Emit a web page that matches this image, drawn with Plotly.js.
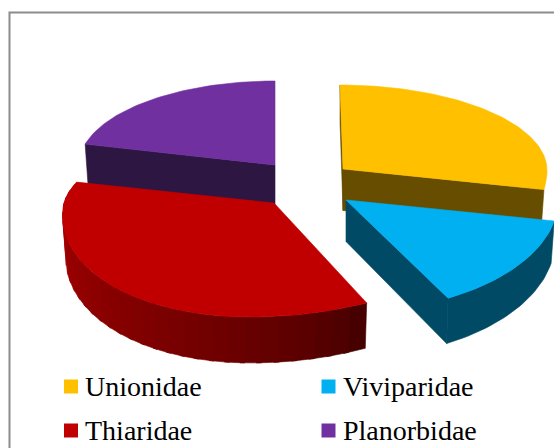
<!DOCTYPE html>
<html><head><meta charset="utf-8">
<script src="https://cdn.plot.ly/plotly-3.0.1.min.js"></script>
<style>html,body{margin:0;padding:0;background:#fff;overflow:hidden}#c{width:554px;height:448px}</style>
</head><body><div id="c"></div>
<script>
// Data
const categories = ["Unionidae","Viviparidae","Thiaridae","Planorbidae"];
const values = [28,14,37,21];
const topColors = ["#FFC000","#00B0F0","#C00000","#7030A0"];
const sideColors = ["#664D00","#004A66","#800000","#2E1642"];

// Projected pie geometry (exploded apex and radii for each slice, in chart units)
const apexX = [343,346,274,275], apexY = [169,200,203,165];
const radRight = [204,212,236,196], radLeft = [209,208,210,196];
const radBack = 84, radFront = [110,112,114,84];
const skew = [-3,0,24,0];
const depthMid = 41.5, depthTilt = 4.5, baseShrink = 0.985;

const total = values.reduce((a,b)=>a+b,0);
let cum = 0;
const startAng = [], endAng = [];
values.forEach(v=>{ startAng.push(cum/total*2*Math.PI); cum+=v; endAng.push(cum/total*2*Math.PI); });

function rimTop(i,t){ const X=Math.sin(t),Y=Math.cos(t);
  return [apexX[i]+X*(X>=0?radRight[i]:radLeft[i])+skew[i]*Y, apexY[i]-Y*(Y>=0?radBack:radFront[i]), Y]; }
function rimBot(i,t){ const p=rimTop(i,t);
  return [apexX[i]+(p[0]-apexX[i])*baseShrink, p[1]+depthMid-depthTilt*p[2]]; }
function arc(i,a,b,f){ const n=Math.max(2,Math.round(Math.abs(b-a)*40)),o=[];
  for(let k=0;k<=n;k++) o.push(f(i,a+(b-a)*k/n)); return o; }
const traces=[];
function poly(pts,color){ const xs=pts.map(p=>p[0]).concat(pts[0][0]), ys=pts.map(p=>p[1]).concat(pts[0][1]);
  traces.push({x:xs,y:ys,type:"scatter",mode:"lines",fill:"toself",fillcolor:color,
    line:{color:color,width:0.6},hoverinfo:"skip",showlegend:false}); }
function apexBot(i){ return [apexX[i],apexY[i]+depthMid]; }
function apexTop(i){ return [apexX[i],apexY[i]]; }
function topFace(i){ poly([apexTop(i)].concat(arc(i,startAng[i],endAng[i],rimTop)),topColors[i]); }
function cut(i,t){ poly([apexTop(i),rimTop(i,t).slice(0,2),rimBot(i,t),apexBot(i)],sideColors[i]); }
function rim(i,a,b,color){ poly(arc(i,a,b,rimTop).map(p=>p.slice(0,2)).concat(arc(i,a,b,rimBot).reverse()),color); }

// Painter order: back slices first
cut(3,startAng[3]); topFace(3);
cut(0,startAng[0]); cut(0,endAng[0]); topFace(0);
// Thiaridae, with shaded rim
const steps=30, shadeA=[168,0,0], shadeB=[70,0,0];
const a0=startAng[2], a1=Math.min(endAng[2],1.5*Math.PI+0.2);
for(let k=0;k<steps;k++){
  const f=k/(steps-1), c=shadeB.map((v,j)=>Math.round(v+(shadeA[j]-v)*Math.pow(f,0.7)));
  rim(2,a0+(a1-a0)*k/steps,a0+(a1-a0)*(k+1.3)/steps,`rgb(${c.join(",")})`);
}
topFace(2);
// Viviparidae
rim(1,startAng[1],endAng[1],sideColors[1]); cut(1,endAng[1]); topFace(1);

// Legend swatches
const legendCol=[71,328.5], legendRow=[386.5,430.5], textCol=[83,341];
const annotations=[];
categories.forEach((c,i)=>{
  const cx=legendCol[i%2], cy=legendRow[i>>1];
  traces.push({x:[cx],y:[cy],type:"scatter",mode:"markers",name:c,
    marker:{symbol:"square",size:14,color:topColors[i]},hoverinfo:"name",showlegend:false});
  annotations.push({x:textCol[i%2],y:cy,xref:"x",yref:"y",text:c,showarrow:false,xanchor:"left",yanchor:"middle",
    font:{family:"Liberation Serif",size:28,color:"#000"}});
});

Plotly.newPlot("c",traces,{
  width:554,height:448,margin:{l:0,r:0,t:0,b:0},paper_bgcolor:"#fff",plot_bgcolor:"#fff",showlegend:false,
  xaxis:{range:[0,554],visible:false,fixedrange:true},
  yaxis:{range:[448,0],visible:false,fixedrange:true},
  annotations,
  shapes:[{type:"rect",xref:"x",yref:"y",x0:9.5,y0:12.5,x1:600,y1:500,line:{color:"#8C8C8C",width:2}}]
},{displayModeBar:false});
</script></body></html>
